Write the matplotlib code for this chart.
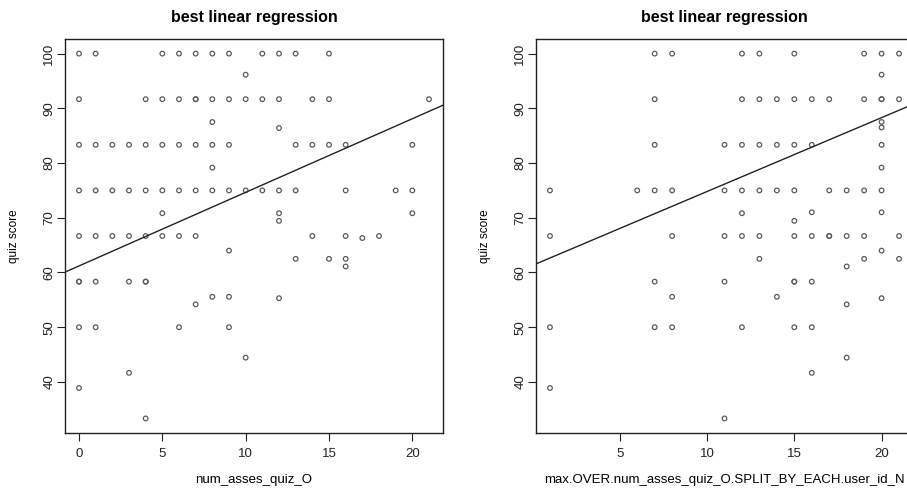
import matplotlib
matplotlib.use("Agg")
import matplotlib.pyplot as plt
import numpy as np

plt.rcParams['font.family'] = ['Liberation Sans', 'DejaVu Sans']

# ---- Left panel data: (score, list of x values) ----
left_rows = {
    100.0: [0, 1, 5, 6, 7, 8, 9, 11, 12, 13, 15],
    96.15: [10],
    91.67: [0, 4, 5, 6, 7, 7, 8, 9, 10, 11, 12, 14, 15, 21],
    87.5: [8],
    86.4: [12],
    83.33: [0, 1, 2, 3, 4, 5, 6, 7, 8, 9, 13, 14, 15, 16, 20],
    79.17: [8],
    75.0: [0, 1, 2, 3, 4, 5, 6, 7, 8, 9, 10, 11, 12, 13, 16, 19, 20],
    70.83: [5, 12, 20],
    69.44: [12],
    66.67: [0, 1, 2, 3, 4, 5, 6, 7, 14, 16, 18],
    66.3: [17],
    64.0: [9],
    62.5: [13, 15, 16],
    61.1: [16],
    58.33: [0, 0, 1, 3, 4, 4],
    55.56: [8, 9],
    55.3: [12],
    54.17: [7],
    50.0: [0, 1, 6, 9],
    44.44: [10],
    41.67: [3],
    38.89: [0],
    33.33: [4],
}

# ---- Right panel data ----
right_rows = {
    100.0: [7, 8, 12, 13, 15, 19, 20, 21],
    96.15: [20],
    91.67: [7, 12, 13, 14, 15, 16, 17, 19, 20, 20, 21],
    87.5: [20],
    86.5: [20],
    83.33: [7, 11, 12, 13, 14, 15, 16, 20],
    79.17: [20],
    75.0: [1, 6, 7, 8, 11, 12, 13, 14, 15, 17, 18, 19, 20],
    71.0: [16, 20],
    70.83: [12],
    69.44: [15],
    66.67: [1, 8, 11, 12, 13, 15, 16, 17, 17, 18, 19, 21],
    64.0: [20],
    62.5: [13, 19, 21],
    61.1: [18],
    58.33: [7, 11, 15, 15, 16],
    55.56: [8, 14],
    55.3: [20],
    54.17: [18],
    50.0: [1, 7, 8, 12, 15, 16],
    44.44: [18],
    41.67: [16],
    38.89: [1],
    33.33: [11],
}

left_fit = (61.2, 1.345)    # intercept, slope
right_fit = (61.3, 1.35)

title = "best linear regression"
ylabel = "quiz score"
left_xlabel = "num_asses_quiz_O"
right_xlabel = "max.OVER.num_asses_quiz_O.SPLIT_BY_EACH.user_id_N"
yticks = [40, 50, 60, 70, 80, 90, 100]
left_xticks = [0, 5, 10, 15, 20]
right_xticks = [5, 10, 15, 20]


def flatten(rows):
    xs, ys = [], []
    for y, xl in rows.items():
        for x in xl:
            xs.append(x)
            ys.append(y)
    return np.array(xs, float), np.array(ys, float)


fig = plt.figure(figsize=(9.07, 4.88), dpi=100)
W, H = 907, 488


def make_ax(x0, x1, y0, y1):
    return fig.add_axes([x0 / W, 1 - y1 / H, (x1 - x0) / W, (y1 - y0) / H])


def draw(ax, rows, fit, xticks, xlabel, xlim):
    xs, ys = flatten(rows)
    ax.scatter(xs, ys, s=11, facecolors='none', edgecolors='#5a5a5a',
               linewidths=0.9, zorder=3)
    ax.set_xlim(*xlim)
    ax.set_ylim(30.67, 102.67)
    a, b = fit
    xx = np.array(xlim)
    ax.plot(xx, a + b * xx, color='#222222', lw=1.0, zorder=4)
    ax.set_xticks(xticks)
    ax.set_yticks(yticks)
    ax.set_yticklabels([str(t) for t in yticks], rotation=90, va='center')
    ax.tick_params(direction='out', length=6, width=0.8, labelsize=9.5,
                   colors='#222222', pad=1)
    ax.tick_params(axis='x', pad=5)
    for s in ax.spines.values():
        s.set_linewidth(1.0)
        s.set_color('#222222')
    ax.set_title(title, fontsize=11.5, fontweight='bold', pad=12.5)
    ax.set_xlabel(xlabel, fontsize=9.5, labelpad=10)
    ax.set_ylabel(ylabel, fontsize=8.5, labelpad=17)


axL = make_ax(65, 443, 39, 433)
draw(axL, left_rows, left_fit, left_xticks, left_xlabel, (-0.84, 21.84))

axR = make_ax(536, 913, 39, 433)
draw(axR, right_rows, right_fit, right_xticks, right_xlabel, (0.2, 21.8))

fig.savefig("out.png", dpi=100)
